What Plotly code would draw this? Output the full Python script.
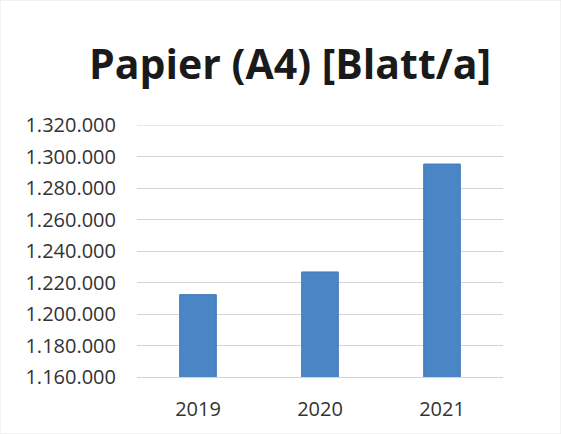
import plotly.graph_objects as go

years = ["2019", "2020", "2021"]
values = [1212300, 1226700, 1295200]
y_ticks = [1160000, 1180000, 1200000, 1220000, 1240000, 1260000, 1280000, 1300000, 1320000]
title_text = "Papier (A4) [Blatt/a]"

fig = go.Figure(go.Bar(
    x=years, y=values,
    marker=dict(color="#4a86c6", line=dict(color="#3f78b8", width=1)),
    width=0.30,
))

fig.update_layout(
    width=561, height=434,
    margin=dict(l=137, r=58, t=125, b=57),
    paper_bgcolor="white", plot_bgcolor="white",
    separators=",.",
    title=dict(text=f"<b>{title_text}</b>", x=0.517, xanchor="center", y=0.85, yanchor="middle",
               font=dict(family="Open Sans", size=41, color="#1a1a1a")),
    font=dict(family="Open Sans", color="#333333"),
    showlegend=False,
)
fig.update_yaxes(
    range=[1160000, 1320000], tickvals=y_ticks, tickformat=",.0f",
    showgrid=True, gridcolor="#d4d4d4", gridwidth=1, zeroline=False,
    showline=False, ticks="", ticklabelstandoff=20,
    tickfont=dict(size=20, color="#333333"),
)
fig.update_xaxes(
    showgrid=False, showline=True, linecolor="#d4d4d4", ticks="",
    ticklabelstandoff=14, tickfont=dict(size=20, color="#333333"),
)
fig.add_hline(y=y_ticks[-1], line=dict(color="#d4d4d4", width=1), layer="below")
fig.add_shape(type="rect", xref="paper", yref="paper", x0=-137/366, x1=1 + 58/366,
              y0=-57/252, y1=1 + 125/252, line=dict(color="#e6e6e6", width=1))

fig.write_html("out.html")
